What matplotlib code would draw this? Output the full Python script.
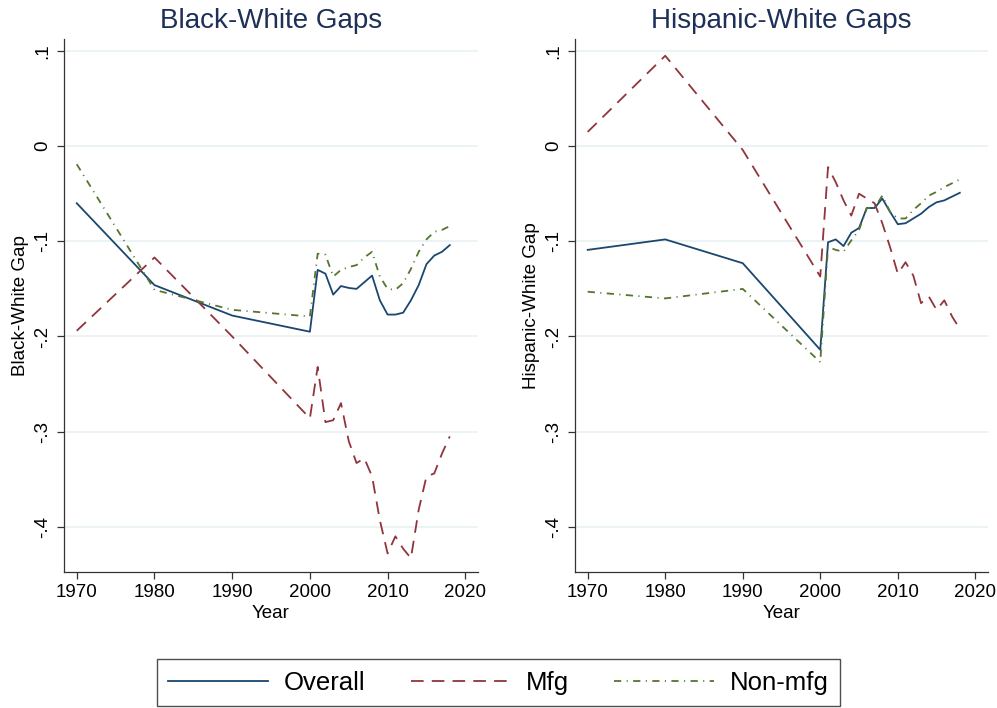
import matplotlib
matplotlib.use('Agg')
import matplotlib.pyplot as plt

plt.rcParams['font.family'] = ['Liberation Sans', 'DejaVu Sans']

# data
years = [1970, 1980, 1990, 2000, 2001, 2002, 2003, 2004, 2005, 2006, 2007,
         2008, 2009, 2010, 2011, 2012, 2013, 2014, 2015, 2016, 2017, 2018]

bw_overall = [-0.060, -0.146, -0.178, -0.195, -0.130, -0.134, -0.156, -0.147,
              -0.149, -0.150, -0.143, -0.136, -0.162, -0.177, -0.177, -0.175,
              -0.162, -0.146, -0.124, -0.115, -0.111, -0.104]
bw_mfg = [-0.194, -0.117, -0.200, -0.286, -0.232, -0.290, -0.288, -0.270,
          -0.310, -0.333, -0.328, -0.347, -0.393, -0.428, -0.410, -0.423,
          -0.433, -0.382, -0.347, -0.344, -0.323, -0.305]
bw_nonmfg = [-0.019, -0.151, -0.172, -0.179, -0.113, -0.114, -0.137, -0.130,
             -0.127, -0.125, -0.117, -0.111, -0.137, -0.150, -0.151, -0.144,
             -0.129, -0.111, -0.098, -0.090, -0.088, -0.084]

hw_overall = [-0.109, -0.098, -0.123, -0.214, -0.101, -0.098, -0.105, -0.091,
              -0.086, -0.065, -0.065, -0.055, -0.069, -0.082, -0.081, -0.076,
              -0.071, -0.064, -0.059, -0.057, -0.053, -0.049]
hw_mfg = [0.015, 0.095, -0.004, -0.137, -0.022, -0.038, -0.057, -0.073,
          -0.050, -0.055, -0.060, -0.081, -0.106, -0.134, -0.122, -0.136,
          -0.165, -0.158, -0.172, -0.162, -0.179, -0.192]
hw_nonmfg = [-0.153, -0.160, -0.150, -0.227, -0.106, -0.109, -0.111, -0.099,
             -0.088, -0.065, -0.065, -0.052, -0.069, -0.076, -0.076, -0.067,
             -0.060, -0.052, -0.048, -0.043, -0.039, -0.035]

xticks = [1970, 1980, 1990, 2000, 2010, 2020]
yticks = [0.1, 0, -0.1, -0.2, -0.3, -0.4]
ytick_labels = ['.1', '0', '-.1', '-.2', '-.3', '-.4']

navy = '#1a476f'
maroon = '#90353b'
green = '#55752f'

fig = plt.figure(figsize=(9.97, 7.08), dpi=100)
ax1 = fig.add_axes([0.0642, 0.1925, 0.415, 0.752])
ax2 = fig.add_axes([0.5767, 0.1925, 0.414, 0.752])

panels = [
    (ax1, 'Black-White Gaps', 'Black-White Gap', bw_overall, bw_mfg, bw_nonmfg),
    (ax2, 'Hispanic-White Gaps', 'Hispanic-White Gap', hw_overall, hw_mfg, hw_nonmfg),
]

for ax, title, ylab, ov, mf, nm in panels:
    ax.plot(years, ov, color=navy, lw=1.3, label='Overall')
    ax.plot(years, mf, color=maroon, lw=1.3, linestyle=(0, (7, 4.5)), label='Mfg')
    ax.plot(years, nm, color=green, lw=1.3, linestyle=(0, (4, 3, 0.6, 3)), label='Non-mfg')

    ax.set_xlim(1968.36, 2021.6)
    ax.set_ylim(-0.4472, 0.1123)
    ax.set_xticks(xticks)
    ax.set_yticks(yticks)
    ax.set_yticklabels(ytick_labels, rotation=90, va='center')
    ax.grid(axis='y', color='#eaf2f3', lw=1.3)
    ax.set_axisbelow(True)
    for s in ['top', 'right']:
        ax.spines[s].set_visible(False)
    for s in ['left', 'bottom']:
        ax.spines[s].set_color('#333333')
        ax.spines[s].set_linewidth(0.9)
    ax.tick_params(labelsize=13.5, length=5, width=0.9, color='#333333', pad=4)
    ax.set_xlabel('Year', fontsize=13.5, labelpad=3)
    ax.set_ylabel(ylab, fontsize=13.5, labelpad=4)
    ax.set_title(title, fontsize=20, color='#1e3057', pad=8)

handles, labels = ax1.get_legend_handles_labels()
leg = fig.legend(handles, labels, loc='center', bbox_to_anchor=(0.5, 0.036),
                 ncol=3, fontsize=18.5, frameon=True, fancybox=False,
                 handlelength=3.9, handletextpad=0.6, columnspacing=1.75,
                 borderpad=0.45, borderaxespad=0)
leg.get_frame().set_edgecolor('#222222')
leg.get_frame().set_linewidth(1.0)

fig.savefig('out.png', dpi=100)
